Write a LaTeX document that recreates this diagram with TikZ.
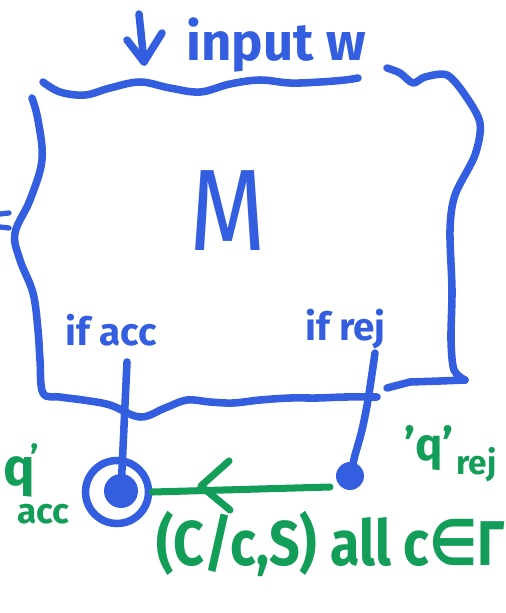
\documentclass[tikz,border=0pt]{standalone}
\usepackage{fontspec}
\setmainfont{Fira Sans}
\newfontfamily\dvsym{DejaVu Sans}
\usetikzlibrary{calc}
\definecolor{mblue}{RGB}{52,94,224}
\definecolor{mgreen}{RGB}{18,158,88}
\begin{document}
\begin{tikzpicture}[x=0.02cm,y=-0.02cm,
 bl/.style={draw=mblue,line width=4.3pt,line cap=round,line join=round},
 gr/.style={draw=mgreen,line width=4pt,line cap=round,line join=round},
 btxt/.style={text=mblue,inner sep=0pt,font=\fontsize{#1}{#1}\selectfont\bfseries},
 gtxt/.style={text=mgreen,inner sep=0pt,font=\fontsize{#1}{#1}\selectfont\bfseries}]
\useasboundingbox (0,0) rectangle (506,613);
\clip (0,0) rectangle (506,613);
% machine box outline
\draw[bl] plot[smooth,tension=0.6] coordinates {(43,82) (60,92) (85,95) (110,88) (140,82) (170,88) (200,92) (230,84) (260,80) (290,83) (320,82) (345,80) (358,78)};
\draw[bl] plot[smooth,tension=0.5] coordinates {(387,68) (400,73) (413,83) (425,77) (447,75) (465,95) (480,123) (475,155) (455,195) (450,230) (452,290) (451,340) (454,370) (465,380)};
\draw[bl] (465,380) -- (440,381) -- (410,382) -- (387,388);
\draw[bl] plot[smooth,tension=0.6] coordinates {(32,98) (38,120) (42,160) (30,200) (15,233) (20,260) (33,293) (38,330) (40,360) (43,393) (60,397) (83,400) (110,405) (140,417) (165,408) (187,400) (210,402) (233,403) (260,400) (290,398) (317,398) (345,397) (377,397)};
\draw[bl,line width=3pt] (0,214) -- (9,213);
\draw[bl,line width=3pt] (0,227) -- (9,228);
% input arrow
\coordinate (inTop) at (139,14);
\coordinate (inTip) at (144,62);
\draw[bl] (inTop) -- (inTip);
\draw[bl] (127,40) -- (inTip) -- (162,33);
\node[btxt=30,anchor=base west] (input) at (186,60) {input w};
% M
\node[text=mblue,inner sep=0pt,font=\fontsize{66}{66}\selectfont,anchor=base,xscale=0.85] (M) at (228,250) {M};
% branch labels
\node[btxt=22,anchor=base west] (ifacc) at (65,345) {if acc};
\node[btxt=22,anchor=base west] (ifrej) at (305,340) {if rej};
% accept state
\node[circle,draw=mblue,line width=4.3pt,minimum size=1.26cm,inner sep=0pt] (acc) at (117,492) {};
\node[circle,fill=mblue,minimum size=0.68cm,inner sep=0pt] (accdot) at (121,491) {};
\node[circle,fill=mblue,minimum size=0.56cm,inner sep=0pt] (rejdot) at (350,476) {};
\coordinate (accline) at (127,362);
\coordinate (rejline) at (375,353);
\draw[bl] (accline) -- (accdot.center);
\draw[bl] plot[smooth] coordinates {(rejline) (368,400) (362,430) (355,455)} -- (rejdot.center);
% transition
\coordinate (gs) at (330,487);
\draw[gr] (gs) -- (acc.east);
\coordinate (tip) at (201,486);
\draw[gr] (229,461) -- (tip) -- (230,510);
% green labels
\node[gtxt=30,anchor=base west] (q1) at (3,485) {q};
\node[gtxt=20,anchor=base west] at (30,470) {'};
\node[gtxt=20,anchor=base west] (accs) at (17,523) {acc};
\node[gtxt=26,anchor=base west] (q2) at (404,460) {'q'};
\node[gtxt=19,anchor=base west] (rejs) at ($(q2.base east)+(2,14)$) {rej};
\node[gtxt=36,anchor=base west,xscale=0.85] (lab) at (156,565) {(C/c,S) all c{\dvsym ∈}Γ};
\end{tikzpicture}
\end{document}
